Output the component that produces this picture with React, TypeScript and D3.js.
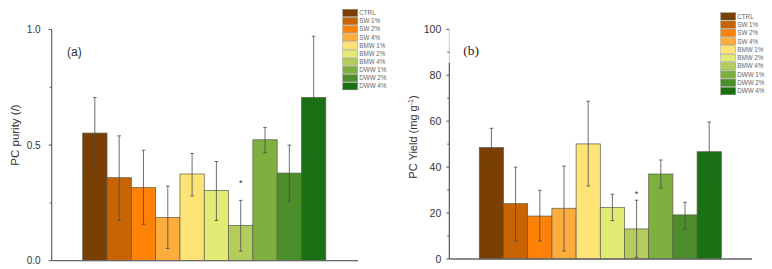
import React from "react";
import * as d3 from "d3";

const categories = ["CTRL", "SW 1%", "SW 2%", "SW 4%", "BMW 1%", "BMW 2%", "BMW 4%", "DWW 1%", "DWW 2%", "DWW 4%"];
const colors = ["#7a3f02", "#c86404", "#fe8208", "#fcad3e", "#fee476", "#e4eb74", "#b3cd5c", "#7db03f", "#4c8e2c", "#1a7114"];

const purity = [0.552, 0.359, 0.317, 0.187, 0.375, 0.304, 0.153, 0.523, 0.379, 0.706];
const purityHigh = [0.706, 0.540, 0.478, 0.323, 0.464, 0.429, 0.261, 0.576, 0.500, 0.971];
const purityLow = [0.395, 0.174, 0.157, 0.053, 0.280, 0.174, 0.042, 0.467, 0.256, 0.441];

const yieldV = [48.5, 24.1, 18.7, 22.1, 50.1, 22.5, 13.1, 37.0, 19.2, 46.7];
const yieldHigh = [56.9, 40.0, 29.9, 40.5, 68.7, 28.2, 25.6, 43.1, 24.7, 59.6];
const yieldLow = [40.0, 7.8, 7.8, 3.5, 31.8, 16.7, 0.7, 30.8, 13.1, 33.4];

const purityMajor = [0, 0.5, 1.0];
const purityMinor = [0.25, 0.75];
const yieldMajor = [0, 20, 40, 60, 80, 100];
const yieldMinor = [10, 30, 50, 70, 90];

// significance marker: category index and the value level at which the "*" sits
const sigIndex = 6;
const puritySigLevel = 0.345;
const yieldSigLevel = 29.3;

const FONT = "'Liberation Sans', Arial, sans-serif";

type PanelProps = {
  values: number[];
  hi: number[];
  lo: number[];
  sigLevel: number;
  yDomain: [number, number];
  yRange: [number, number];
  xRange: [number, number];
  axisX: number;
  axisEnd: number;
  major: number[];
  minor: number[];
  fmt: (v: number) => string;
  tickFont: number;
  labelGap: number;
  legendX: number;
  legendY: number;
  legendStep: number;
  brokenTop?: number;
};

function Panel(p: PanelProps) {
  const x = d3.scaleBand<string>().domain(categories).range(p.xRange).padding(0);
  const y = d3.scaleLinear().domain(p.yDomain).range(p.yRange);
  const y0 = y(p.yDomain[0]);
  const yTop = y(p.yDomain[1]);
  const bw = x.bandwidth();
  const starSize = 9;
  return (
    <g>
      {categories.map((c, i) => (
        <rect key={c} x={x(c)!} y={y(p.values[i])} width={bw} height={y0 - y(p.values[i])}
          fill={colors[i]} stroke="#5a5a4a" strokeWidth={0.7} />
      ))}
      {categories.map((c, i) => {
        const cx = x(c)! + bw / 2;
        return (
          <g key={"e" + c} stroke="#4a4a4a" strokeWidth={0.8}>
            <line x1={cx} x2={cx} y1={y(p.hi[i])} y2={y(p.lo[i])} />
            <line x1={cx - 1.8} x2={cx + 1.8} y1={y(p.hi[i])} y2={y(p.hi[i])} />
            <line x1={cx - 1.8} x2={cx + 1.8} y1={y(p.lo[i])} y2={y(p.lo[i])} />
          </g>
        );
      })}
      <text x={x(categories[sigIndex])! + bw / 2} y={y(p.sigLevel) + 0.59 * starSize} textAnchor="middle"
        fontFamily={FONT} fontSize={starSize} fill="#333">*</text>
      {/* y axis */}
      {p.brokenTop !== undefined ? (
        <g>
          <line x1={p.axisX} x2={p.axisX} y1={yTop} y2={p.brokenTop} stroke="#c8c8c8" strokeWidth={1} />
          <line x1={p.axisX} x2={p.axisX} y1={p.brokenTop} y2={y0} stroke="#444" strokeWidth={1.1} />
        </g>
      ) : (
        <line x1={p.axisX} x2={p.axisX} y1={yTop} y2={y0} stroke="#555" strokeWidth={1.1} />
      )}
      {p.major.map((v) => (
        <g key={"M" + v}>
          <line x1={p.axisX - 3} x2={p.axisX} y1={y(v)} y2={y(v)} stroke="#555" strokeWidth={1} />
          <text x={p.axisX - p.labelGap} y={y(v)} dy="0.35em" textAnchor="end" fontFamily={FONT}
            fontSize={p.tickFont} fill="#333">{p.fmt(v)}</text>
        </g>
      ))}
      {p.minor.map((v) => (
        <line key={"m" + v} x1={p.axisX - 2} x2={p.axisX} y1={y(v)} y2={y(v)} stroke="#555" strokeWidth={1} />
      ))}
      {/* x axis */}
      <line x1={p.axisX} x2={p.axisEnd} y1={y0} y2={y0} stroke="#666" strokeWidth={1.3} />
      {/* legend */}
      {categories.map((c, i) => (
        <g key={"l" + c}>
          <rect x={p.legendX} y={p.legendY + i * p.legendStep} width={15} height={p.legendStep - 0.9}
            fill={colors[i]} stroke="#8a8a7a" strokeWidth={0.4} />
          <text x={p.legendX + 16.5} y={p.legendY + i * p.legendStep + (p.legendStep - 0.9) / 2} dy="0.35em"
            fontFamily={FONT} fontSize={6.3} fill="#666">{c}</text>
        </g>
      ))}
    </g>
  );
}

export default function App() {
  return (
    <svg width={772} height={269} viewBox="0 0 772 269"
      style={{ position: "absolute", left: 0, top: 0, background: "#fff" }}>
      <rect x={0} y={0} width={772} height={269} fill="#fff" />
      <Panel values={purity} hi={purityHigh} lo={purityLow} sigLevel={puritySigLevel} yDomain={[0, 1]} yRange={[260.7, 29.5]}
        xRange={[82.7, 325.8]} axisX={51.7} axisEnd={358} major={purityMajor} minor={purityMinor}
        fmt={(v) => d3.format(".1f")(v)} tickFont={10} labelGap={11}
        legendX={342.7} legendY={9.3} legendStep={8.15} />
      <Panel values={yieldV} hi={yieldHigh} lo={yieldLow} sigLevel={yieldSigLevel} yDomain={[0, 100]} yRange={[259, 29.3]}
        xRange={[479.3, 721.3]} axisX={449.3} axisEnd={752} major={yieldMajor} minor={yieldMinor}
        fmt={(v) => String(v)} tickFont={10.5} labelGap={8}
        legendX={720.7} legendY={12.7} legendStep={8.3} brokenTop={62.7} />
      <text x={67} y={56} fontFamily={FONT} fontSize={12} fill="#333">(a)</text>
      <text x={463.3} y={55} fontFamily="'Liberation Serif', 'Times New Roman', serif" fontSize={13.5} fill="#222">(b)</text>
      <text transform="translate(15,135) rotate(-90)" textAnchor="middle" dy="0.35em" fontFamily={FONT}
        fontSize={11.5} fill="#333">PC purity (/)</text>
      <text transform="translate(412.7,137) rotate(-90)" textAnchor="middle" dy="0.35em" fontFamily={FONT}
        fontSize={11} fill="#333">PC Yield (mg g<tspan dy="-4" fontSize={7}>-1</tspan><tspan dy="4">)</tspan></text>
    </svg>
  );
}
